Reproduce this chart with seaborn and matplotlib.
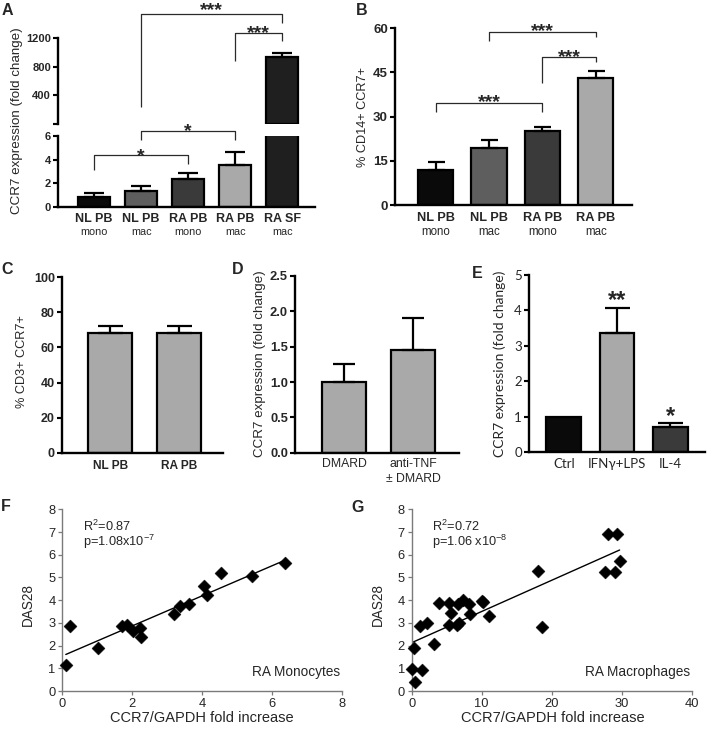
import numpy as np
import pandas as pd
import matplotlib
matplotlib.use("Agg")
import matplotlib.pyplot as plt
import matplotlib.transforms as mtransforms
import seaborn as sns

# ---------------- data ----------------
a_cats = ["NL PB mono", "NL PB mac", "RA PB mono", "RA PB mac", "RA SF mac"]
a_top = ["NL PB", "NL PB", "RA PB", "RA PB", "RA SF"]
a_sub = ["mono", "mac", "mono", "mac", "mac"]
a_vals = [0.85, 1.3, 2.37, 3.56, 930]
a_errs = [1.2, 1.72, 2.9, 4.66, 992]
a_colors = ["#0a0a0a", "#5e5e5e", "#3a3a3a", "#a9a9a9", "#1f1f1f"]
a_lower_ticks = [0, 2, 4, 6]
a_upper_ticks = [0, 400, 800, 1200]
a_upper_labels = ["", "400", "800", "1200"]

b_cats = ["NL PB mono", "NL PB mac", "RA PB mono", "RA PB mac"]
b_top = ["NL PB", "NL PB", "RA PB", "RA PB"]
b_sub = ["mono", "mac", "mono", "mac"]
b_vals = [11.9, 19.3, 25.2, 43.0]
b_errs = [14.5, 22.1, 26.4, 45.4]
b_colors = ["#0a0a0a", "#5e5e5e", "#3a3a3a", "#a9a9a9"]
b_ticks = [0, 15, 30, 45, 60]

c_cats = ["NL PB", "RA PB"]
c_vals = [68.1, 68.0]
c_errs = [72.2, 72.3]
c_ticks = [0, 20, 40, 60, 80, 100]

d_cats = ["DMARD", "anti-TNF\n\u00b1 DMARD"]
d_vals = [1.0, 1.46]
d_errs = [1.25, 1.9]
d_ticks = [0, 0.5, 1.0, 1.5, 2.0, 2.5]
d_tick_labels = ["0.0", "0.5", "1.0", "1.5", "2.0", "2.5"]

e_cats = ["Ctrl", "IFN\u03b3+LPS", "IL-4"]
e_vals = [1.0, 3.35, 0.7]
e_errs = [None, 4.07, 0.81]
e_stars = ["", "**", "*"]
e_colors = ["#0a0a0a", "#a9a9a9", "#3a3a3a"]
e_ticks = [0, 1, 2, 3, 4, 5]

f_x = [0.1, 0.22, 1.01, 1.71, 1.86, 2.01, 2.22, 2.24, 3.2, 3.36, 3.62, 4.05, 4.14, 4.52, 5.41, 6.37]
f_y = [1.15, 2.84, 1.91, 2.84, 2.91, 2.64, 2.76, 2.38, 3.39, 3.75, 3.82, 4.63, 4.23, 5.21, 5.07, 5.65]

g_x = [0.0, 0.33, 0.52, 1.19, 1.43, 2.24, 3.24, 3.95, 5.29, 5.38, 5.67, 6.5, 6.7, 6.67, 7.29, 8.19,
       8.33, 10.05, 10.2, 11.1, 18.1, 18.6, 27.6, 28.1, 29.3, 29.1, 29.7]
g_y = [0.95, 1.91, 0.41, 2.86, 0.91, 3.01, 2.07, 3.86, 3.86, 2.91, 3.45, 2.9, 3.0, 3.83, 4.01, 3.83,
       3.39, 3.98, 3.94, 3.30, 5.29, 2.83, 5.26, 6.90, 6.90, 5.26, 5.74]

# ---------------- style ----------------
sns.set_style("ticks")
plt.rcParams["font.family"] = ["Liberation Sans", "DejaVu Sans"]
plt.rcParams["mathtext.fontset"] = "custom"
plt.rcParams["mathtext.rm"] = "Liberation Sans"
plt.rcParams["mathtext.it"] = "Liberation Sans:italic"
plt.rcParams["mathtext.bf"] = "Liberation Sans:bold"

W, H = 707, 733
fig = plt.figure(figsize=(W / 100, H / 100), dpi=100)


def add_ax(l, t, r, b):
    return fig.add_axes([l / W, 1 - b / H, (r - l) / W, (b - t) / H])


def px2pt(p):
    return p * 72 / 100


SPW = 1.7


def style_bar_ax(ax, ticks, labels, ytick_fs, family="Liberation Sans", weight="bold"):
    sns.despine(ax=ax)
    for s in ["left", "bottom"]:
        ax.spines[s].set_linewidth(SPW)
        ax.spines[s].set_color("black")
    ax.set_yticks(ticks)
    ax.set_yticklabels(labels if labels is not None else [str(t) for t in ticks],
                       fontsize=ytick_fs, fontweight=weight, family=family)
    ax.tick_params(axis="y", length=px2pt(5), width=SPW * 0.9, pad=1.5, color="black")
    ax.set_xlabel("")
    ax.set_ylabel("")


def draw_bars(ax, cats, vals, colors, width, order=None):
    df = pd.DataFrame({"cat": cats, "val": vals})
    pal = dict(zip(cats, colors))
    sns.barplot(data=df, x="cat", y="val", hue="cat", palette=pal, order=order or cats,
                hue_order=cats, width=width, edgecolor="black", linewidth=1.6,
                legend=False, errorbar=None, saturation=1, ax=ax)


def draw_err(ax, xs, vals, tops, cap_px):
    xs = np.asarray(xs, float)
    vals = np.asarray(vals, float)
    tops = np.asarray(tops, float)
    ax.errorbar(xs, vals, yerr=[np.zeros_like(vals), tops - vals], fmt="none",
                ecolor="black", elinewidth=1.6, capsize=px2pt(cap_px / 2), capthick=1.6,
                zorder=1)


def bracket(ax, x1, x2, h, y1, y2, stars, c_px, fs=14):
    ax.plot([x1, x1, x2, x2], [y1, h, h, y2], color="#2a2a2a", lw=0.9, clip_on=False,
            solid_capstyle="butt", zorder=5)
    off = px2pt(c_px - 0.57 * fs * 100 / 72)
    ax.annotate(stars, xy=((x1 + x2) / 2, h), xytext=(0, off), textcoords="offset points",
                ha="center", va="baseline", fontsize=fs, fontweight="bold",
                annotation_clip=False)


def ylabel(ax, text, x_px, y_px, fs, family=None):
    ax.set_ylabel(text, fontsize=fs, family=family)
    ax.yaxis.set_label_coords(x_px / W, 1 - y_px / H, transform=fig.transFigure)
    ax.yaxis.label.set_va("center")


# ---------------- panel A ----------------
axA = add_ax(58, 136, 315, 206.7)
axAu = add_ax(58, 38, 315, 124)
draw_bars(axA, a_cats, a_vals, a_colors, 0.68)
draw_bars(axAu, [a_cats[4]], [a_vals[4]], [a_colors[4]], 0.68, order=a_cats)
for ax in (axA, axAu):
    ax.set_xlim(-0.77, 4.70)
axA.set_ylim(0, 6)
axAu.set_ylim(0, 1200)
draw_err(axA, range(4), a_vals[:4], a_errs[:4], 20)
draw_err(axAu, [4], [a_vals[4]], [a_errs[4]], 20)
style_bar_ax(axA, a_lower_ticks, None, 8)
style_bar_ax(axAu, a_upper_ticks, a_upper_labels, 8)
axAu.spines["bottom"].set_visible(False)
axAu.set_xticks([])
axA.set_xticks(range(5))
axA.set_xticklabels(a_top, fontsize=9, fontweight="bold")
axA.tick_params(axis="x", length=0, pad=4.5)
trA = mtransforms.offset_copy(axA.get_xaxis_transform(), fig=fig, y=-px2pt(25.3), units="points")
for i, s in enumerate(a_sub):
    axA.text(i, 0, s, transform=trA, ha="center", va="center", fontsize=7.8)
ylabel(axA, "CCR7 expression (fold change)", 17, 121, 9.6)
bracket(axAu, 1, 4, 1535, 237, 1410, "***", 10)
bracket(axAu, 3, 4, 1270, 880, 1160, "***", 5.5)
bracket(axA, 1, 3, 6.4, 5.65, 5.65, "*", 6.5)
bracket(axA, 0, 2, 4.38, 3.1, 3.6, "*", 5.5)

# ---------------- panel B ----------------
axB = add_ax(395, 28.3, 632, 205)
draw_bars(axB, b_cats, b_vals, b_colors, 0.66)
axB.set_xlim(-0.76, 3.68)
axB.set_ylim(0, 60)
draw_err(axB, range(4), b_vals, b_errs, 17)
style_bar_ax(axB, b_ticks, None, 9.5)
axB.set_xticks(range(4))
axB.set_xticklabels(b_top, fontsize=9.2, fontweight="bold")
axB.tick_params(axis="x", length=0, pad=4.8)
trB = mtransforms.offset_copy(axB.get_xaxis_transform(), fig=fig, y=-px2pt(27), units="points")
for i, s in enumerate(b_sub):
    axB.text(i, 0, s, transform=trB, ha="center", va="center", fontsize=8.3)
ylabel(axB, "% CD14+ CCR7+", 363, 117, 9.2)
bracket(axB, 1, 3, 58.7, 55.8, 56.9, "***", 7.5)
bracket(axB, 2, 3, 50.4, 41.5, 48.7, "***", 5.5)
bracket(axB, 0, 2, 34.7, 31.7, 31.7, "***", 6.5)

# ---------------- panel C ----------------
axC = add_ax(62, 277.3, 223, 452.7)
draw_bars(axC, c_cats, c_vals, ["#a9a9a9", "#a9a9a9"], 0.64)
axC.set_xlim(-0.70, 1.64)
axC.set_ylim(0, 100)
draw_err(axC, range(2), c_vals, c_errs, 25)
style_bar_ax(axC, c_ticks, None, 9)
axC.set_xticks(range(2))
axC.set_xticklabels(c_cats, fontsize=8.6, fontweight="bold")
axC.tick_params(axis="x", length=0, pad=5)
ylabel(axC, "% CD3+ CCR7+", 22, 362, 9.2)

# ---------------- panel D ----------------
axD = add_ax(295, 276, 459, 452.7)
draw_bars(axD, d_cats, d_vals, ["#a9a9a9", "#a9a9a9"], 0.64)
axD.set_xlim(-0.72, 1.67)
axD.set_ylim(0, 2.5)
draw_err(axD, range(2), d_vals, d_errs, 23)
style_bar_ax(axD, d_ticks, d_tick_labels, 9.3)
axD.set_xticks(range(2))
axD.set_xticklabels(d_cats, fontsize=8.8, linespacing=1.3)
axD.tick_params(axis="x", length=0, pad=4)
ylabel(axD, "CCR7 expression (fold change)", 260, 364, 9.6)

# ---------------- panel E ----------------
axE = add_ax(529, 275, 705, 452)
draw_bars(axE, e_cats, e_vals, e_colors, 0.66)
axE.set_xlim(-0.66, 2.66)
axE.set_ylim(0, 5)
idx = [i for i, e in enumerate(e_errs) if e is not None]
draw_err(axE, idx, [e_vals[i] for i in idx], [e_errs[i] for i in idx], 25)
style_bar_ax(axE, e_ticks, None, 9.5, family="Lato", weight="normal")
axE.set_xticks(range(3))
axE.set_xticklabels(e_cats, fontsize=9.5, family="Lato")
axE.tick_params(axis="x", length=0, pad=4.5)
ylabel(axE, "CCR7 expression (fold change)", 500, 364, 10, family="Lato")
for i in idx:
    axE.annotate(e_stars[i], xy=(i, e_errs[i]), xytext=(0, px2pt(14 - 0.57 * 17 * 100 / 72)),
                 textcoords="offset points", ha="center", va="baseline",
                 fontsize=17, fontweight="bold", annotation_clip=False)


# ---------------- panels F, G ----------------
def scatter_panel(ax, xs, ys, xmax, xstep, r2, ptxt, label):
    sns.scatterplot(x=xs, y=ys, marker="D", s=44, color="black", edgecolor="black",
                    linewidth=0.3, ax=ax, zorder=3, clip_on=False)
    sns.regplot(x=xs, y=ys, scatter=False, ci=None, truncate=True, ax=ax,
                line_kws={"color": "black", "lw": 1.0})
    ax.set_xlim(0, xmax)
    ax.set_ylim(0, 8)
    ax.set_xticks(np.arange(0, xmax + 0.01, xstep))
    ax.set_yticks(range(9))
    sns.despine(ax=ax)
    for s in ["left", "bottom"]:
        ax.spines[s].set_linewidth(1.0)
        ax.spines[s].set_color("#7a7a7a")
    ax.tick_params(axis="both", length=px2pt(4), width=0.9, color="#7a7a7a",
                   labelsize=9.3, pad=2)
    ax.set_xlabel("CCR7/GAPDH fold increase", fontsize=10.5)
    ax.set_ylabel("DAS28", fontsize=9.8)
    ax.text(0.074, 0.905, r2, transform=ax.transAxes, fontsize=9.2, va="center", ha="left")
    ax.text(0.074, 0.818, ptxt, transform=ax.transAxes, fontsize=9.2, va="center", ha="left")
    ax.text(0.993, 0.105, label, transform=ax.transAxes, fontsize=9.8, va="center", ha="right")


axF = add_ax(62.3, 509.3, 342.3, 691)
scatter_panel(axF, f_x, f_y, 8, 2, "R$^{2}$=0.87", "p=1.08x10$^{-7}$", "RA Monocytes")
axF.xaxis.set_label_coords(202 / W, 1 - 718 / H, transform=fig.transFigure)
axF.yaxis.set_label_coords(28 / W, 1 - 604 / H, transform=fig.transFigure)
axF.xaxis.label.set_va("center")
axF.yaxis.label.set_va("center")

axG = add_ax(411.7, 509.3, 691.7, 691)
scatter_panel(axG, g_x, g_y, 40, 10, "R$^{2}$=0.72", "p=1.06 x10$^{-8}$", "RA Macrophages")
axG.xaxis.set_label_coords(553 / W, 1 - 718 / H, transform=fig.transFigure)
axG.yaxis.set_label_coords(378 / W, 1 - 604 / H, transform=fig.transFigure)
axG.xaxis.label.set_va("center")
axG.yaxis.label.set_va("center")

# ---------------- panel letters ----------------
for letter, (x, y) in {"A": (2, 3), "B": (356, 3), "C": (1, 262), "D": (232, 262),
                       "E": (472, 266), "F": (1, 499), "G": (351, 500)}.items():
    fig.text(x / W, 1 - y / H, letter, fontsize=11.5, fontweight="bold", ha="left", va="top")

fig.savefig("out.png", dpi=100)
